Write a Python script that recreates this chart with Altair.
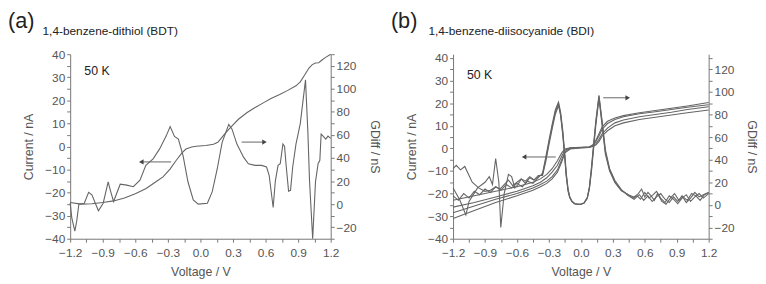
import altair as alt
import pandas as pd

FONT = "Liberation Sans"
LINE = "#656565"
TXT = "#555555"

x_ticks = [-1.2, -1.05, -0.9, -0.75, -0.6, -0.45, -0.3, -0.15, 0.0, 0.15, 0.3, 0.45,
           0.6, 0.75, 0.9, 1.05, 1.2]
i_ticks = [-40, -35, -30, -25, -20, -15, -10, -5, 0, 5, 10, 15, 20, 25, 30, 35, 40]
g_ticks = [-30, -20, -10, 0, 10, 20, 30, 40, 50, 60, 70, 80, 90, 100, 110, 120, 130]

# ---------------- (a) BDT ----------------
bdt_I_v = [-1.2, -1.1, -1.0, -0.9, -0.8, -0.7, -0.6, -0.5, -0.4, -0.345, -0.28, -0.224,
           -0.17, -0.134, -0.08, -0.04, 0.05, 0.12, 0.16, 0.185, 0.23, 0.276, 0.35, 0.427,
           0.5, 0.579, 0.65, 0.73, 0.8, 0.88, 0.92, 0.96, 1.0, 1.03, 1.06, 1.09, 1.12, 1.15, 1.2]
bdt_I = [-24.3, -25.0, -24.8, -24.3, -23.6, -22.3, -20.5, -18.2, -15.0, -13.2, -9.8, -6.1,
         -2.8, -1.1, -0.2, 0.1, 0.4, 1.0, 1.8, 3.2, 5.8, 8.2, 11.8, 14.6,
         16.8, 18.9, 20.8, 22.5, 24.2, 26.3, 28.0, 31.0, 34.0, 35.5, 36.2, 36.3, 37.5, 38.5, 40.0]

bdt_G_v = [-1.2, -1.185, -1.157, -1.14, -1.12, -1.07, -1.03, -1.0, -0.94, -0.896, -0.85, -0.83,
           -0.8, -0.739, -0.679, -0.618, -0.557, -0.503, -0.436, -0.376, -0.315, -0.279, -0.239,
           -0.203, -0.16, -0.115, -0.066, -0.02, 0.064, 0.109, 0.155, 0.2, 0.261, 0.291, 0.336,
           0.397, 0.442, 0.503, 0.564, 0.609, 0.633, 0.67, 0.69, 0.715, 0.735, 0.76, 0.775, 0.79,
           0.812, 0.83, 0.85, 0.88, 0.903, 0.92, 0.968, 0.99, 1.005, 1.034, 1.06, 1.084, 1.1,
           1.112, 1.13, 1.155, 1.175, 1.2]
bdt_G = [1, -12, -23.4, -15, 0, 0.8, 10.2, 8, -5.8, 0.8, 19.4, 12,
         2.3, 17.3, 16.5, 15.1, 20.7, 33.6, 39.3, 47.9, 59.2, 67.3, 58.7,
         56.4, 42.1, 19.4, 3.6, 0, 0.8, 10.8, 30.7, 53.6, 69.2, 65, 52.1,
         40.7, 35, 33.6, 33.6, 32.2, 25, -2.9, 20, 33.6, 35, 52.1, 50, 33,
         11.3, 12, 32.2, 52, 62.2, 70, 107.7, 62, 20, -30, 19.4, 35, 38,
         60.7, 59, 56.4, 59, 57]

# ---------------- (b) BDI ----------------
bdi_I_v = [-1.2, -1.0, -0.8, -0.6, -0.45, -0.38, -0.32, -0.27, -0.22, -0.18, -0.15, -0.1,
           0.0, 0.08, 0.11, 0.14, 0.17, 0.2, 0.25, 0.32, 0.4, 0.55, 0.7, 0.85, 1.0, 1.2]
bdi_I1 = [-23, -21, -19, -17, -15, -13.5, -11.5, -9, -5.5, -2, -0.3, 0.3,
          0.5, 0.7, 1.5, 3.5, 6.5, 9.5, 12, 13.5, 14.5, 15.8, 16.8, 17.8, 18.8, 20.3]
bdi_I2 = [-26, -24, -21.5, -19, -16.5, -15, -13, -10.5, -7.5, -3.5, -0.8, 0.2,
          0.4, 0.6, 1.2, 3, 5.5, 8.5, 11, 12.8, 14, 15.3, 16.2, 17.2, 18.2, 19.3]
bdi_I3 = [-28.5, -25.5, -22.5, -20, -17.5, -16, -14.5, -12.5, -9.5, -5, -1.5, 0,
          0.3, 0.5, 1, 2, 4, 6.5, 9, 11.3, 12.6, 14, 15, 16, 17.2, 18.4]
bdi_I4 = [-31, -27.5, -24, -21, -18.5, -17, -15.5, -13.5, -10.5, -6, -2, -0.3,
          0.2, 0.4, 0.8, 1.5, 3, 5.5, 7.8, 10, 11.3, 12.8, 13.8, 14.8, 15.8, 17.0]

bdi_Gc_v = [-0.36, -0.33, -0.3, -0.27, -0.24, -0.21, -0.19, -0.17, -0.15, -0.137, -0.12, -0.105,
            -0.085, -0.06, -0.03, 0.0, 0.03, 0.06, 0.08, 0.1, 0.12, 0.14, 0.17, 0.2, 0.23, 0.27,
            0.32, 0.38]
bdi_G1c = [27, 40, 55, 69, 82, 90, 80, 64, 42, 26, 13, 7, 3, 1, 0.5, 0.5, 1.5, 6, 15, 32, 52,
           72, 96, 72, 47, 31, 20.5, 13]
bdi_G2c = [26, 38, 53, 67, 80, 88, 79, 62, 40, 25, 12, 6.5, 3, 1, 0.5, 0.5, 1.5, 5.5, 14, 30,
           50, 70, 94, 70, 45, 30, 19.5, 12.5]
bdi_G3c = [28, 42, 57, 71, 84, 91, 82, 66, 44, 28, 14, 7.5, 3.5, 1.2, 0.6, 0.6, 1.8, 6.5, 16,
           34, 54, 74, 97, 74, 49, 32, 21.5, 13.5]

bdi_G1l_v = [-1.2, -1.17, -1.13, -1.09, -1.05, -1.02, -0.96, -0.9, -0.85, -0.8, -0.76, -0.72,
             -0.68, -0.64, -0.6, -0.56, -0.52, -0.48, -0.44, -0.4]
bdi_G1l = [32, 35, 31, 34, 26, 20, 15, 12, 13, 16, 14, 18, 22, 17, 20, 23, 19, 24, 22, 25]
bdi_G2l_v = [-1.2, -1.14, -1.08, -1.05, -0.97, -0.9, -0.86, -0.83, -0.8, -0.77, -0.752, -0.72,
             -0.68, -0.65, -0.62, -0.59, -0.56, -0.52, -0.48, -0.44, -0.4]
bdi_G2l = [15, 5, -9, 3, 15, 20, 25, 18, 41, 20, -20, 10, 27, 25, 15, 18, 23, 21, 25, 22, 26]
bdi_G3l_v = [-1.2, -1.15, -1.1, -1.05, -1.0, -0.95, -0.9, -0.85, -0.8, -0.75, -0.7, -0.65,
             -0.6, -0.55, -0.5, -0.45, -0.4]
bdi_G3l = [8, 4, 10, 6, 12, 9, 14, 11, 16, 13, 18, 15, 19, 16, 21, 19, 24]

bdi_G1r_v = [0.44, 0.5, 0.54, 0.57, 0.6, 0.63, 0.66, 0.69, 0.72, 0.76, 0.8, 0.84, 0.88, 0.92,
             0.96, 1.0, 1.04, 1.08, 1.12, 1.16, 1.2]
bdi_G1r = [9, 7, 10, 14, 7, 11, 8, 4, 10, 3, 0.5, 6, 10, 4, 7, 4, 10, 8, 4, 9, 11]
bdi_G2r_v = [0.44, 0.49, 0.53, 0.56, 0.6, 0.64, 0.68, 0.71, 0.75, 0.79, 0.83, 0.87, 0.91, 0.95,
             0.99, 1.03, 1.07, 1.11, 1.15, 1.2]
bdi_G2r = [9.5, 6, 8, 5, 11, 6, 9, 12, 6, 2, 8, 5, 1, 6, 9, 3, 7, 10, 6, 10]
bdi_G3r_v = [0.44, 0.5, 0.55, 0.59, 0.63, 0.67, 0.71, 0.75, 0.79, 0.83, 0.87, 0.91, 0.95, 0.99,
             1.03, 1.07, 1.11, 1.15, 1.2]
bdi_G3r = [8.5, 5, 9, 4, 8, 3, 7, 10, 5, 2, 7, 3, 8, 2, 6, 11, 7, 9, 11]

# annotations (data coordinates: V, nA)
a_arrows = {"V": [-0.27, 0.38], "V2": [-0.545, 0.59], "I": [-6.7, 1.9]}
a_heads = {"V": [-0.545, 0.59], "I": [-6.7, 1.9], "shape": ["triangle-left", "triangle-right"]}
b_arrows = {"V": [-0.236, 0.21], "V2": [-0.533, 0.44], "I": [-3.8, 22.4]}
b_heads = {"V": [-0.533, 0.44], "I": [-3.8, 22.4], "shape": ["triangle-left", "triangle-right"]}
temp_label = {"V": [-1.07], "I": [32.5], "t": ["50 K"]}


def df_lines(pairs, field):
    rows = []
    for name, vs, ys in pairs:
        for i, (v, y) in enumerate(zip(vs, ys)):
            rows.append({"curve": name, "V": v, field: y, "k": i})
    return pd.DataFrame(rows)


X = alt.X("V:Q", scale=alt.Scale(domain=[-1.2, 1.2], nice=False, zero=False),
          axis=alt.Axis(values=x_ticks, format=".1f", title="Voltage / V",
                        labelExpr="round(datum.value*100) % 30 == 0 ? datum.label : ''",
                        labelOverlap=False, labelFlush=False, labelPadding=5, titlePadding=8))


def panel(cur_df, g_df, arrows, heads, letter, subtitle, sub_dx, w, h, i_top, g_top):
    YI = alt.Y("I:Q", scale=alt.Scale(domain=[-40, i_top], nice=False, zero=False),
               axis=alt.Axis(values=i_ticks, title="Current / nA", orient="left", titlePadding=9,
                             labelExpr="datum.value % 10 == 0 ? datum.label : ''",
                             labelOverlap=False, labelFlush=False))
    YG = alt.Y("G:Q", scale=alt.Scale(domain=[-30, g_top], nice=False, zero=False),
               axis=alt.Axis(values=g_ticks, title="GDiff / nS", orient="right", titlePadding=11,
                             labelExpr="(datum.value % 20 == 0 && datum.value > -30 && datum.value < 130) ? datum.label : ''",
                             labelOverlap=False, labelFlush=False))
    cur = alt.Chart(cur_df).mark_line(color=LINE, strokeWidth=1.1).encode(
        x=X, y=YI, detail="curve:N", order="k:Q")
    arr = alt.Chart(pd.DataFrame(arrows)).mark_rule(color=LINE, strokeWidth=1).encode(
        x=X, x2="V2:Q", y=YI)
    hd = alt.Chart(pd.DataFrame(heads)).mark_point(filled=True, color="#444", size=28, opacity=1).encode(
        x=X, y=YI, shape=alt.Shape("shape:N", scale=None))
    tl = alt.Chart(pd.DataFrame(temp_label)).mark_text(
        font=FONT, fontSize=12.5, align="left", baseline="middle", color="#222").encode(
        x=X, y=YI, text="t:N")
    lab = alt.Chart(pd.DataFrame({"t": [letter]})).mark_text(
        font=FONT, fontSize=22, align="left", baseline="alphabetic", color="#222").encode(
        x=alt.value(-63), y=alt.value(-27), text="t:N")
    sub = alt.Chart(pd.DataFrame({"t": [subtitle]})).mark_text(
        font=FONT, fontSize=12, align="left", baseline="alphabetic", color="#222").encode(
        x=alt.value(sub_dx), y=alt.value(-19), text="t:N")
    g = alt.Chart(g_df).mark_line(color=LINE, strokeWidth=1.1).encode(
        x=X, y=YG, detail="curve:N", order="k:Q")
    left = alt.layer(cur, arr, hd, tl, lab, sub)
    return alt.layer(left, g).resolve_scale(y="independent").properties(width=w, height=h)


a_cur = df_lines([("i", bdt_I_v, bdt_I)], "I")
a_g = df_lines([("g", bdt_G_v, bdt_G)], "G")
b_cur = df_lines([("i1", bdi_I_v, bdi_I1), ("i2", bdi_I_v, bdi_I2),
                  ("i3", bdi_I_v, bdi_I3), ("i4", bdi_I_v, bdi_I4)], "I")
b_g = df_lines([
    ("g1", bdi_G1l_v + bdi_Gc_v + bdi_G1r_v, bdi_G1l + bdi_G1c + bdi_G1r),
    ("g2", bdi_G2l_v + bdi_Gc_v + bdi_G2r_v, bdi_G2l + bdi_G2c + bdi_G2r),
    ("g3", bdi_G3l_v + bdi_Gc_v + bdi_G3r_v, bdi_G3l + bdi_G3c + bdi_G3r),
], "G")

pa = panel(a_cur, a_g, a_arrows, a_heads, "(a)", "1,4-benzene-dithiol (BDT)", -28, 264, 187, 40, 130)
pb = panel(b_cur, b_g, b_arrows, b_heads, "(b)", "1,4-benzene-diisocyanide (BDI)", -25, 259, 187,
           41.7, 133.4)

chart = alt.hconcat(pa, pb, spacing=11, padding={"left": 0, "top": 0, "right": 0, "bottom": 0}
).configure_view(stroke=None).configure_axis(
    grid=False, domainColor="#777", tickColor="#777", tickSize=3.5,
    labelColor=TXT, titleColor=TXT, labelFont=FONT, titleFont=FONT,
    labelFontSize=12, titleFontSize=12.5, titleFontWeight="normal", labelPadding=2,
)

chart.save("out.html", embed_options={"renderer": "svg", "actions": False})
